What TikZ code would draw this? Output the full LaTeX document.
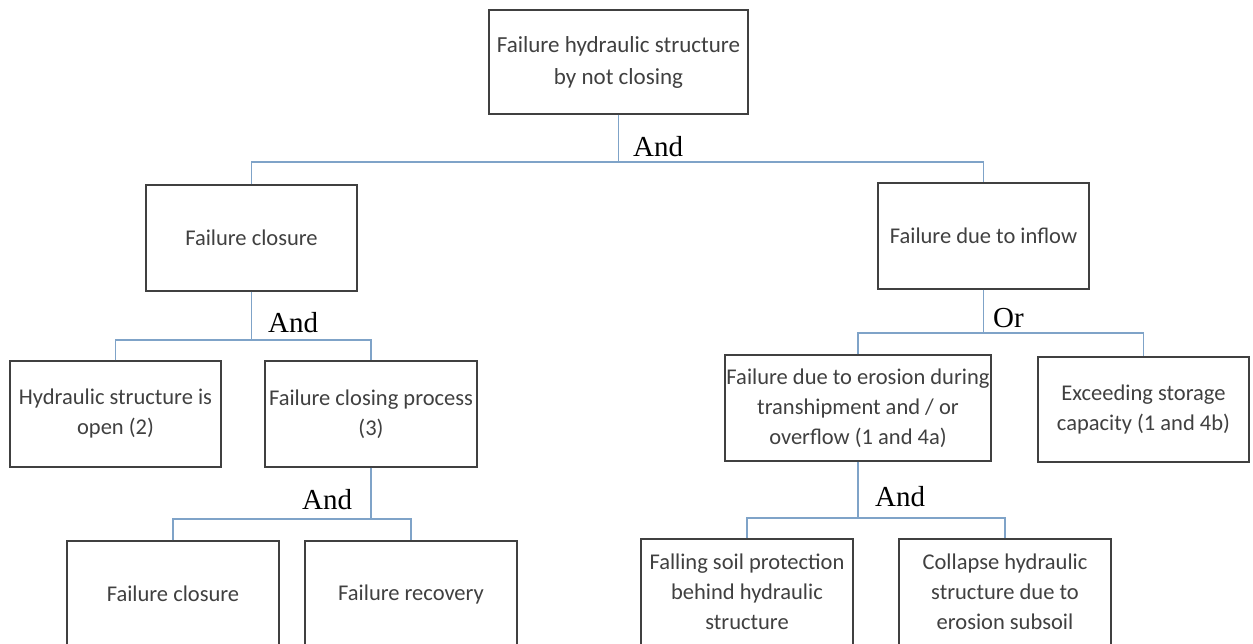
\documentclass[tikz,border=0pt]{standalone}
\usepackage{fontspec}
\setmainfont{Carlito}
\newfontfamily\labelfont{Liberation Serif}
\definecolor{boxline}{HTML}{404040}
\definecolor{txt}{HTML}{404040}
\definecolor{conn}{HTML}{7FA3C8}
\begin{document}
\begin{tikzpicture}[x=1pt,y=-1pt,
  box/.style={draw=boxline, line width=1.1pt, fill=white, inner sep=0pt,
    minimum width=211pt, minimum height=106pt, align=center, text=txt,
    font=\fontsize{22.5}{30}\selectfont},
  conline/.style={draw=conn, line width=1.3pt},
  gate/.style={anchor=base west, inner sep=0pt, font=\labelfont\fontsize{29}{34}\selectfont, text=black}]
\useasboundingbox (0,0) rectangle (1253,644);
% boxes
\node[box, minimum width=259pt, minimum height=104pt, font=\fontsize{23}{32}\selectfont] (top) at (618.5,62) {Failure hydraulic structure\\by not closing};
\node[box] (fc) at (251.5,238) {Failure closure};
\node[box] (fi) at (983.5,236) {Failure due to inflow};
\node[box] (hs) at (115.5,414) {Hydraulic structure is\\open (2)};
\node[box, minimum width=212pt] (fcp) at (371,414) {Failure closing process\\(3)};
\node[box, minimum width=266pt] (er) at (858,408) {Failure due to erosion during\\transhipment and / or\\overflow (1 and 4a)};
\node[box, minimum height=105pt] (ex) at (1143.5,409.5) {Exceeding storage\\capacity (1 and 4b)};
\node[box, minimum width=212pt] (fc2) at (173,594) {Failure closure};
\node[box, minimum width=212pt] (fr) at (411,594) {Failure recovery};
\node[box, minimum width=212pt] (fs) at (747,592) {Falling soil protection\\behind hydraulic\\structure};
\node[box, minimum width=212pt] (ch) at (1005,592) {Collapse hydraulic\\structure due to\\erosion subsoil};
% junctions
\coordinate (j1) at (618.5,162);
\coordinate (j2) at (251.5,340);
\coordinate (j3) at (983.5,333);
\coordinate (j4) at (371,519);
\coordinate (j5) at (858,518);
% connectors
\draw[conline] (top.south) -- (j1);
\draw[conline] (fc.north) |- (j1) -| (fi.north);
\draw[conline] (fc.south) -- (j2);
\draw[conline] (hs.north) |- (j2) -| (fcp.north);
\draw[conline] (fi.south) -- (j3);
\draw[conline] (er.north) |- (j3) -| (ex.north);
\draw[conline] (fcp.south) -- (j4);
\draw[conline] (fc2.north) |- (j4) -| (fr.north);
\draw[conline] (er.south) -- (j5);
\draw[conline] (fs.north) |- (j5) -| (ch.north);
% gate labels
\node[gate] (g1) at (633,157) {And};
\node[gate] (g2) at (268,333) {And};
\node[gate] (g3) at (993,327) {Or};
\node[gate] (g4) at (302,509) {And};
\node[gate] (g5) at (875,506) {And};
\end{tikzpicture}
\end{document}
